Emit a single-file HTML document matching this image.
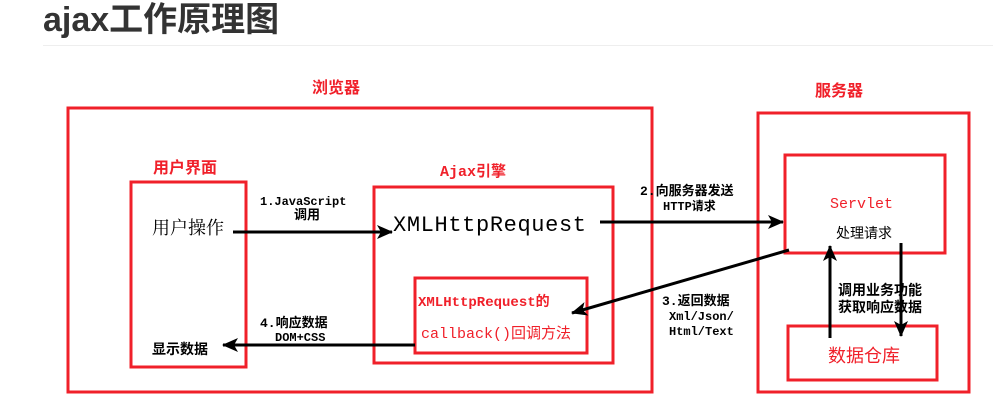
<!DOCTYPE html>
<html><head><meta charset="utf-8"><style>
body{margin:0;background:#fff;width:993px;height:410px;overflow:hidden}
.s{font-family:"Liberation Serif","Noto Serif CJK SC",serif}
.m{font-family:"Liberation Mono","Noto Sans CJK SC",monospace}
.n{font-family:"Liberation Sans","Noto Sans CJK SC",sans-serif}
</style></head><body>
<svg width="993" height="410" viewBox="0 0 993 410" xmlns="http://www.w3.org/2000/svg">
<defs>
<marker id="b" markerWidth="16" markerHeight="14" refX="15" refY="7" orient="auto" markerUnits="userSpaceOnUse"><path d="M0,0 L16,7 L0,14 L4,7 z" fill="#000"/></marker></defs>
<text class="n" x="43" y="31" font-size="34" font-weight="bold" fill="#333">ajax工作原理图</text>
<line x1="43" y1="45.5" x2="993" y2="45.5" stroke="#eee" stroke-width="1"/>
<g fill="none" stroke="#f0202a" stroke-width="3">
<rect x="68" y="108" width="584" height="284"/>
<rect x="131" y="182" width="115" height="185"/>
<rect x="374" y="187" width="239" height="176"/>
<rect x="415" y="278" width="172" height="75"/>
<rect x="758" y="113" width="211" height="279"/>
<rect x="785" y="155" width="160" height="98"/>
<rect x="788" y="326" width="149" height="54"/>
</g>
<g fill="#f0202a" font-weight="bold">
<text class="n" x="312" y="93" font-size="16">浏览器</text>
<text class="n" x="815" y="96" font-size="16">服务器</text>
<text class="n" x="153" y="173" font-size="16">用户界面</text>
<text class="m" x="440" y="176" font-size="15">Ajax引擎</text>
<text class="m" x="418" y="306" font-size="14">XMLHttpRequest的</text>
<text class="m" x="421" y="338" font-size="15" font-weight="normal">callback()回调方法</text>
<text class="m" x="830" y="208" font-size="15" font-weight="normal">Servlet</text>
<text class="n" x="828" y="362" font-size="18" font-weight="normal">数据仓库</text>
</g>
<g fill="#000">
<text class="s" x="152" y="234" font-size="18">用户操作</text>
<text class="n" x="152" y="354" font-size="14" font-weight="bold">显示数据</text>
<text class="m" x="393" y="231" font-size="22" textLength="193">XMLHttpRequest</text>
<text class="n" x="836" y="238" font-size="14">处理请求</text>
<g font-size="12" font-weight="bold">
<text class="m" x="260" y="205">1.JavaScript</text>
<text class="n" x="294" y="219" font-size="13">调用</text>
<text class="m" x="640" y="195" font-size="13">2.向服务器发送</text>
<text class="m" x="663" y="210">HTTP请求</text>
<text class="m" x="662" y="305" font-size="13">3.返回数据</text>
<text class="m" x="669" y="320">Xml/Json/</text>
<text class="m" x="669" y="335">Html/Text</text>
<text class="m" x="260" y="327" font-size="13">4.响应数据</text>
<text class="m" x="275" y="341">DOM+CSS</text>
<text class="n" x="838" y="295" font-size="14">调用业务功能</text>
<text class="n" x="838" y="312" font-size="14">获取响应数据</text>
</g>
</g>
<g stroke="#000" stroke-width="3" fill="none">
<line x1="233" y1="232" x2="392" y2="232" marker-end="url(#b)"/>
<line x1="600" y1="222" x2="783" y2="222" marker-end="url(#b)"/>
<line x1="789" y1="250" x2="572" y2="313" marker-end="url(#b)"/>
<line x1="415" y1="345" x2="223" y2="345" marker-end="url(#b)"/>
<line x1="830" y1="338" x2="830" y2="246" marker-end="url(#b)"/>
<line x1="901" y1="243" x2="901" y2="336" marker-end="url(#b)"/>
</g>
</svg>
</body></html>
